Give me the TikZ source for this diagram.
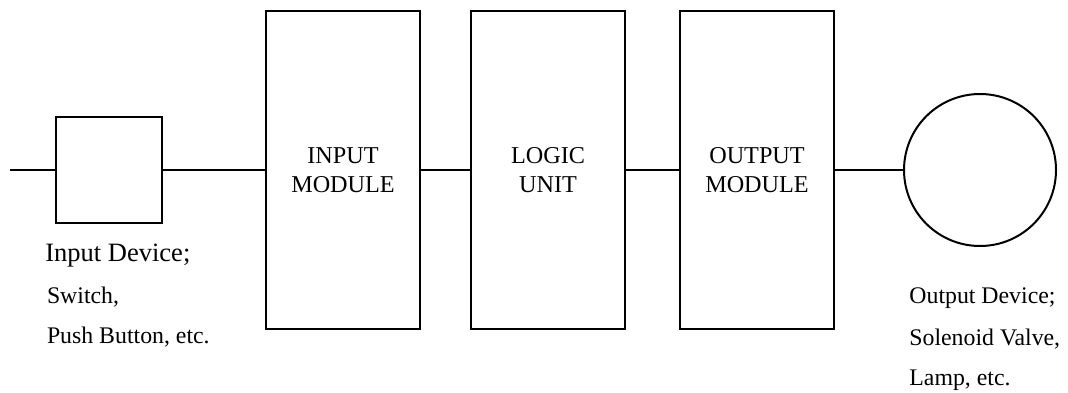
\documentclass[tikz,border=0pt]{standalone}
\usepackage{fontspec}
\setmainfont{Liberation Serif}
\usepackage{tikz}
\usetikzlibrary{positioning}
\tikzset{%
  wire/.style = {draw,line width=1pt},
  dev/.style = {rectangle,draw,line width=1pt,minimum width=53pt,
        minimum height=53pt},
  mod/.style = {rectangle,draw,line width=1pt,minimum width=77pt,
        minimum height=158.5pt,align=center,
        font=\fontsize{12.1}{14.6}\selectfont},
  lamp/.style = {circle,draw,line width=1pt,minimum size=76pt},
  lbl/.style = {inner sep=0pt,anchor=base west,
        font=\fontsize{11.9}{14}\selectfont}
}

\begin{document}
\begin{tikzpicture}
    \useasboundingbox (0,0) rectangle (534pt,196pt);
    \coordinate (in) at (5pt,111pt);
    \node[dev] (sw) at (54.5pt,111pt) {};
    \node[mod] (im) [right=51pt of sw] {INPUT\\MODULE};
    \node[mod] (lu) [right=24.5pt of im] {LOGIC\\UNIT};
    \node[mod] (om) [right=26.5pt of lu] {OUTPUT\\MODULE};
    \node[lamp] (od) [right=34pt of om] {};

    \draw[wire] (in) -- (sw) -- (im) -- (lu) -- (om) -- (od);

    % captions under the devices
    \node[lbl,font=\fontsize{13.25}{15}\selectfont] (indev) at (22.5pt,65.5pt) {Input Device;};
    \node[lbl] (inex1) at (23.3pt,44.5pt) {Switch,};
    \node[lbl] (inex2) at (23.3pt,24.5pt) {Push Button, etc.};
    \node[lbl] (outdev) at (454.5pt,44.5pt) {Output Device;};
    \node[lbl] (outex1) at (454.5pt,23.5pt) {Solenoid Valve,};
    \node[lbl] (outex2) at (454.5pt,3.5pt) {Lamp, etc.};
\end{tikzpicture}
\end{document}
